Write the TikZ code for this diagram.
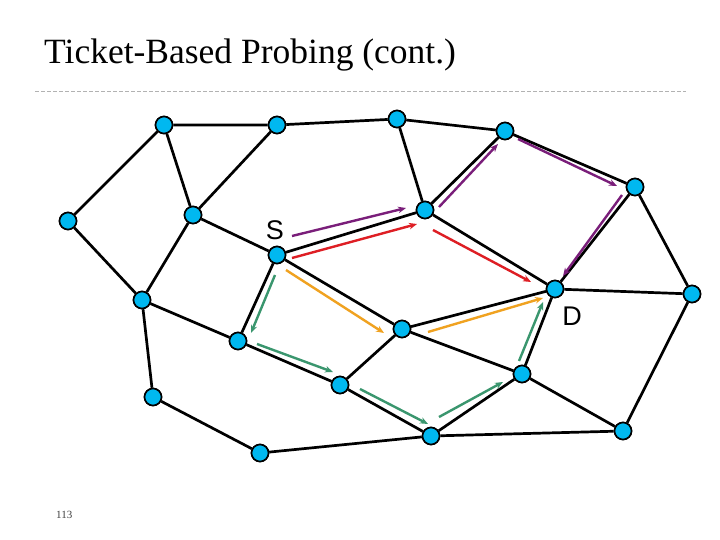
\documentclass[tikz,border=0pt]{standalone}
\usepackage{fontspec}
\setmainfont{Liberation Serif}
\newfontfamily\arialfont{Liberation Sans}
\usetikzlibrary{arrows.meta}
\definecolor{nodeblue}{RGB}{0,184,240}
\definecolor{ppurple}{RGB}{122,30,122}
\definecolor{pred}{RGB}{222,30,36}
\definecolor{porange}{RGB}{240,162,32}
\definecolor{pgreen}{RGB}{58,150,110}
\tikzset{
  vertex/.style={circle,draw=black,line width=1.6pt,fill=nodeblue,minimum size=17pt,inner sep=0pt},
  link/.style={draw=black,line width=2.7pt},
  probe/.style={line width=2.4pt,-{Stealth[length=8pt,width=6.5pt]}},
  lbl/.style={font=\arialfont\fontsize{27}{27}\selectfont,inner sep=0pt}
}
\begin{document}
\begin{tikzpicture}[x=1pt,y=-1pt]
\useasboundingbox (0,0) rectangle (720,540);
\fill[white] (0,0) rectangle (720,540);
% title
\node[anchor=base west,inner sep=0pt,font=\fontsize{35.5}{35.5}\selectfont] (title) at (44,64) {Ticket-Based Probing (cont.)};
\coordinate (dl) at (35,91);
\coordinate (dr) at (686,91);
\draw[gray!60,line width=0.8pt,dash pattern=on 4pt off 2pt] (dl) -- (dr);
\node[anchor=base west,inner sep=0pt,text=black!75,font=\fontsize{11}{11}\selectfont] (pnum) at (56,518) {113};

% nodes
\node[vertex] (n1) at (164,125) {};
\node[vertex] (n2) at (277,125) {};
\node[vertex] (n3) at (397,119) {};
\node[vertex] (n4) at (505,131) {};
\node[vertex] (n5) at (635,187) {};
\node[vertex] (n6) at (68,221) {};
\node[vertex] (n7) at (193,215) {};
\node[vertex] (n8) at (425,210) {};
\node[vertex] (S)  at (277,255) {};
\node[vertex] (D)  at (555,289) {};
\node[vertex] (n11) at (692,294) {};
\node[vertex] (n12) at (142,300) {};
\node[vertex] (n13) at (402,329) {};
\node[vertex] (n14) at (238,341) {};
\node[vertex] (n15) at (522,374) {};
\node[vertex] (n16) at (340,385) {};
\node[vertex] (n17) at (153,397) {};
\node[vertex] (n18) at (431,436) {};
\node[vertex] (n19) at (623,431) {};
\node[vertex] (n20) at (260,453) {};

% edges
\path[link] (n1) -- (n2) (n2) -- (n3) (n3) -- (n4) (n4) -- (n5)
  (n1) -- (n6) (n1) -- (n7) (n2) -- (n7) (n3) -- (n8) (n4) -- (n8)
  (n5) -- (D) (n5) -- (n11) (n6) -- (n12) (n7) -- (n12) (n7) -- (S)
  (S) -- (n8) (n8) -- (D) (D) -- (n11) (S) -- (n14) (S) -- (n13)
  (n13) -- (D) (n12) -- (n14) (n12) -- (n17) (n14) -- (n16)
  (n13) -- (n16) (n13) -- (n15) (D) -- (n15) (n18) -- (n15)
  (n16) -- (n18) (n15) -- (n19) (n11) -- (n19) (n18) -- (n19)
  (n17) -- (n20) (n20) -- (n18);

% redraw nodes on top
\foreach \n in {n1,n2,n3,n4,n5,n6,n7,n8,S,D,n11,n12,n13,n14,n15,n16,n17,n18,n19,n20}
  \draw[line width=1.6pt,fill=nodeblue] (\n.center) circle (8.5pt);

% labels
\node[lbl] (Slbl) at (275,230.5) {S};
\node[lbl] (Dlbl) at (572,316) {D};

% probe coordinates
\coordinate (p1a) at (292,236);  \coordinate (p1b) at (406,208);
\coordinate (p2a) at (439,207);  \coordinate (p2b) at (498,144);
\coordinate (p3a) at (518,139);  \coordinate (p3b) at (617,186);
\coordinate (p4a) at (622,195);  \coordinate (p4b) at (563,276);
\coordinate (r1a) at (292,258);  \coordinate (r1b) at (417,224);
\coordinate (r2a) at (433,230);  \coordinate (r2b) at (531,282);
\coordinate (o1a) at (286,270);  \coordinate (o1b) at (384,333);
\coordinate (o2a) at (428,332);  \coordinate (o2b) at (543,298);
\coordinate (g1a) at (275,275);  \coordinate (g1b) at (251,333);
\coordinate (g2a) at (257,344);  \coordinate (g2b) at (333,372);
\coordinate (g3a) at (360,389);  \coordinate (g3b) at (428,424);
\coordinate (g4a) at (439,417);  \coordinate (g4b) at (503,382);
\coordinate (g5a) at (519,361);  \coordinate (g5b) at (543,302);

\draw[probe,ppurple] (p1a) -- (p1b);
\draw[probe,ppurple] (p2a) -- (p2b);
\draw[probe,ppurple] (p3a) -- (p3b);
\draw[probe,ppurple] (p4a) -- (p4b);
\draw[probe,pred] (r1a) -- (r1b);
\draw[probe,pred] (r2a) -- (r2b);
\draw[probe,porange] (o1a) -- (o1b);
\draw[probe,porange] (o2a) -- (o2b);
\draw[probe,pgreen] (g1a) -- (g1b);
\draw[probe,pgreen] (g2a) -- (g2b);
\draw[probe,pgreen] (g3a) -- (g3b);
\draw[probe,pgreen] (g4a) -- (g4b);
\draw[probe,pgreen] (g5a) -- (g5b);
\end{tikzpicture}
\end{document}
